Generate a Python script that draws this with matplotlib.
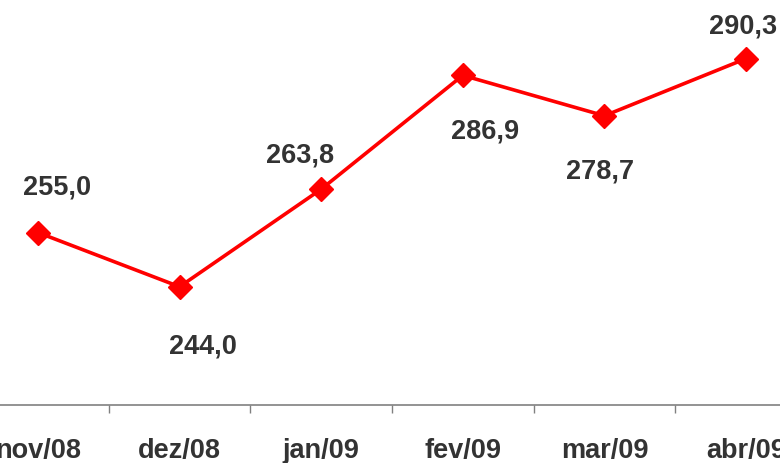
import matplotlib
matplotlib.use("Agg")
import matplotlib.pyplot as plt

categories = ["nov/08", "dez/08", "jan/09", "fev/09", "mar/09", "abr/09"]
values = [255.0, 244.0, 263.8, 286.9, 278.7, 290.3]
labels = ["255,0", "244,0", "263,8", "286,9", "278,7", "290,3"]
# label offsets in pixels (dx, dy up positive)
offsets = [(19, 46), (23, -59), (-21, 35), (22, -55), (-4, -55), (-3, 33)]

fig = plt.figure(figsize=(7.8, 4.64), dpi=100)
W, H = 780, 464
left = -32.8 / W
width = 849.6 / W
bottom = (H - 406) / H
ax = fig.add_axes([left, bottom, width, 1 - bottom])

x = list(range(len(categories)))
ax.plot(x, values, color="#ff0000", linewidth=2.6, marker="D", markersize=12.5,
        markerfacecolor="#ff0000", markeredgecolor="#ff0000", zorder=3)

for xi, v, lab, (dx, dy) in zip(x, values, labels, offsets):
    ax.annotate(lab, (xi, v), xytext=(dx * 0.72, dy * 0.72), textcoords="offset points",
                ha="center", va="center", fontsize=19.5, fontweight="bold",
                color="#333333", family=["Liberation Sans", "DejaVu Sans"])

ax.set_xlim(-0.5, len(categories) - 0.5)
ax.set_ylim(220, 302.4)
for s in ["top", "right", "left"]:
    ax.spines[s].set_visible(False)
ax.spines["bottom"].set_color("#808080")
ax.spines["bottom"].set_linewidth(1.2)
ax.set_yticks([])
ax.set_xticks([i + 0.5 for i in range(len(categories) - 1)])
ax.set_xticklabels([])
ax.set_xticks(x, minor=True)
ax.set_xticklabels(categories, minor=True, fontsize=19.5, fontweight="bold",
                   color="#333333", family=["Liberation Sans", "DejaVu Sans"])
ax.tick_params(axis="x", which="major", length=6, width=1, color="#808080", direction="out")
ax.tick_params(axis="x", which="minor", length=0, pad=23)

fig.savefig("out.png", dpi=100)
